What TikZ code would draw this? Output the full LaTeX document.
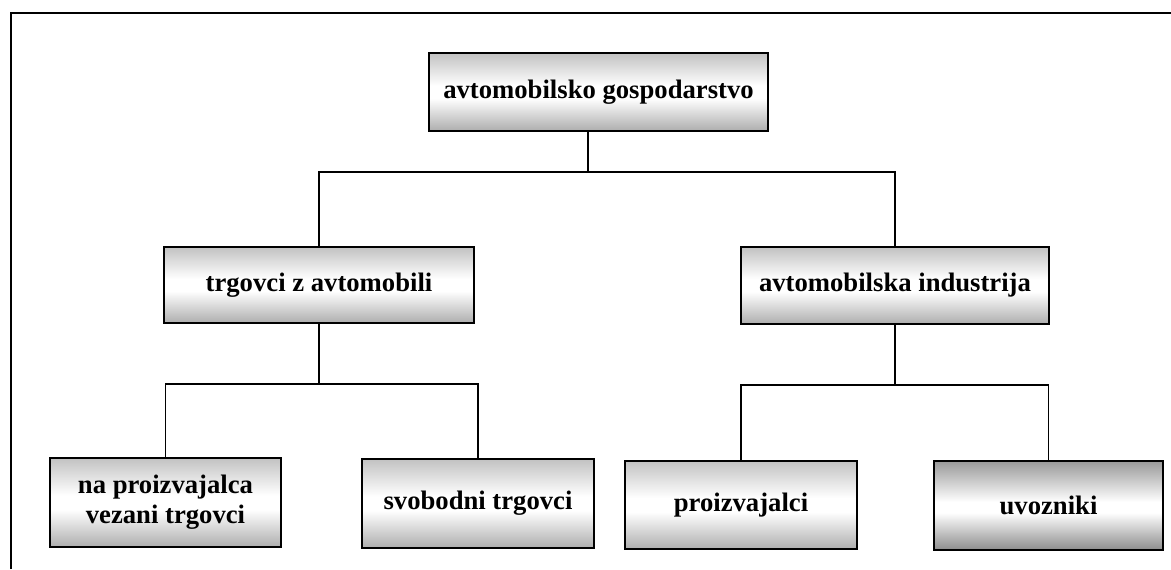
\documentclass[tikz,border=0pt]{standalone}
\usepackage{fontspec}
\setmainfont{Liberation Serif}

% vertical fill of the boxes: grey at the edges, white a little below the middle
\definecolor{shadetop}{gray}{0.76}
\definecolor{shadebot}{gray}{0.68}
\definecolor{darktop}{gray}{0.60}
\definecolor{darkbot}{gray}{0.55}
\pgfdeclareverticalshading{boxshade}{100bp}{%
  color(0bp)=(shadebot); color(25bp)=(shadebot); color(46bp)=(white);
  color(54bp)=(white); color(75bp)=(shadetop); color(100bp)=(shadetop)}
\pgfdeclareverticalshading{darkshade}{100bp}{%
  color(0bp)=(darkbot); color(25bp)=(darkbot); color(46bp)=(white);
  color(52bp)=(white); color(75bp)=(darktop); color(100bp)=(darktop)}

\begin{document}
\begin{tikzpicture}[x=0.75pt, y=-0.75pt,
  orgbox/.style 2 args={draw=black, line width=1.35pt, shading=boxshade,
    minimum width=#1*0.75pt, minimum height=#2*0.75pt, inner sep=0pt,
    align=center, font=\fontsize{20}{22.5}\selectfont\bfseries},
  link/.style={draw=black, line width=1.05pt},
  frame/.style={draw=black, line width=1.3pt}]

\useasboundingbox (0,0) rectangle (1171,569);

% page frame, open to the right and bottom
\draw[frame] (11,569) -- (11,13) -- (1171,13);

% boxes
\node[orgbox={339}{78}] (top) at (598.5,92) {avtomobilsko gospodarstvo};
\node[orgbox={310}{76}] (trg) at (319,285) {trgovci z avtomobili};
\node[orgbox={308}{77}] (ind) at (895,285.5) {avtomobilska industrija};
\node[orgbox={231}{89}] (vez) at (165.5,502.5) {na proizvajalca\\vezani trgovci};
\node[orgbox={232}{89}] (svo) at (478,503.5) {svobodni trgovci};
\node[orgbox={232}{88}] (pro) at (741,505) {proizvajalci};
\node[orgbox={229}{89}, shading=darkshade] (uvo) at (1048.5,505.5) {uvozniki};

% junctions of the connectors
\coordinate (j0) at (588,172);
\coordinate (j1) at (319,384);
\coordinate (j2) at (895,385);

% connectors
\draw[link] (top.south -| j0) -- (j0);
\draw[link] (trg.north) |- (j0) -| (ind.north);
\draw[link] (trg.south) -- (j1);
\draw[link] (vez.north) |- (j1) -| (svo.north);
\draw[link] (ind.south) -- (j2);
\draw[link] (pro.north) |- (j2) -| (uvo.north);
\end{tikzpicture}
\end{document}
